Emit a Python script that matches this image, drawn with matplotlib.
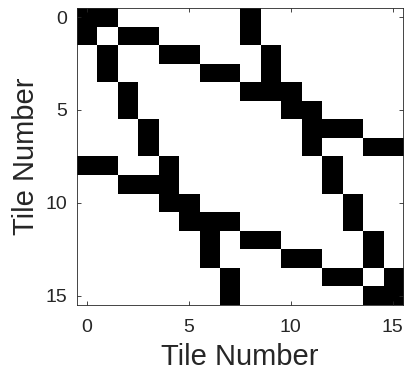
import numpy as np
import matplotlib.pyplot as plt

# black cells per row (tile i -> tiles j)
rows = [
    [0, 1, 8],
    [0, 2, 3, 8],
    [1, 4, 5, 9],
    [1, 6, 7, 9],
    [2, 8, 9, 10],
    [2, 10, 11],
    [3, 11, 12, 13],
    [3, 11, 14, 15],
    [0, 1, 4, 12],
    [2, 3, 4, 12],
    [4, 5, 13],
    [5, 6, 7, 13],
    [6, 8, 9, 14],
    [6, 10, 11, 14],
    [7, 12, 13, 15],
    [7, 14, 15],
]
ticks = [0, 5, 10, 15]

n = len(rows)
mat = np.zeros((n, n))
for i, cols in enumerate(rows):
    mat[i, cols] = 1

plt.rcParams['font.family'] = ['Liberation Sans', 'DejaVu Sans']
fig = plt.figure(figsize=(4.04, 3.74), dpi=100)
ax = fig.add_axes([0.19, 0.185, 0.807, 0.794])
ax.imshow(mat, cmap='gray_r', aspect='auto', interpolation='nearest', vmin=0, vmax=1)
ax.set_xticks(ticks)
ax.set_yticks(ticks)
ax.tick_params(direction='in', top=True, right=True, length=3, width=0.6,
               labelsize=14, colors='#262626', pad=7)
ax.tick_params(axis='x', pad=10)
for s in ax.spines.values():
    s.set_color('#262626')
    s.set_linewidth(0.6)
ax.set_xlabel('Tile Number', fontsize=21, color='#262626', labelpad=5)
ax.set_ylabel('Tile Number', fontsize=21, color='#262626', labelpad=4)
fig.savefig('out.png', dpi=100)
